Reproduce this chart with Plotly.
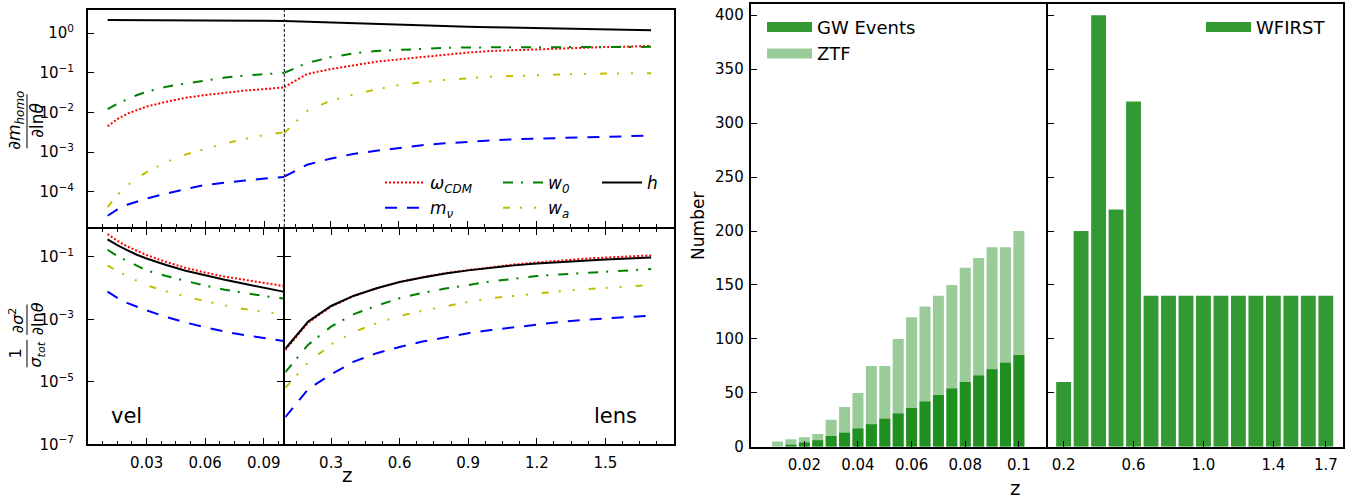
import plotly.graph_objects as go

W, H = 1351, 502
def fx(p): return p / W
def fy(p): return 1 - p / H

# ---------------- data ----------------
z_low = [0.01, 0.015, 0.02, 0.025, 0.03, 0.04, 0.05, 0.06, 0.07, 0.08, 0.09, 0.1]
z_high = [0.1, 0.2, 0.3, 0.4, 0.5, 0.6, 0.7, 0.8, 0.9, 1.0, 1.1, 1.2, 1.3, 1.4, 1.5, 1.6, 1.7]

# top panel (homogeneous), log10 values
homo_low_omega = [-2.35, -2.17, -2.03, -1.93, -1.85, -1.73, -1.63, -1.56, -1.50, -1.45, -1.41, -1.37]
homo_low_w0 = [-1.92, -1.78, -1.67, -1.56, -1.48, -1.35, -1.27, -1.19, -1.12, -1.07, -1.03, -1.00]
homo_low_wa = [-4.39, -4.08, -3.85, -3.66, -3.50, -3.25, -3.06, -2.92, -2.78, -2.67, -2.57, -2.50]
homo_low_mnu = [-4.61, -4.45, -4.33, -4.24, -4.17, -4.05, -3.93, -3.83, -3.77, -3.72, -3.67, -3.63]
homo_low_h = [0.33, 0.33, 0.33, 0.33, 0.33, 0.33, 0.325, 0.325, 0.32, 0.32, 0.315, 0.31]

homo_high_omega = [-1.36, -1.03, -0.91, -0.81, -0.72, -0.66, -0.60, -0.54, -0.49, -0.45, -0.43, -0.40, -0.39, -0.37, -0.35, -0.34, -0.32]
homo_high_w0 = [-1.00, -0.75, -0.61, -0.51, -0.45, -0.42, -0.395, -0.37, -0.36, -0.36, -0.355, -0.355, -0.35, -0.35, -0.35, -0.35, -0.345]
homo_high_wa = [-2.52, -1.96, -1.71, -1.55, -1.42, -1.31, -1.24, -1.18, -1.14, -1.10, -1.08, -1.06, -1.045, -1.03, -1.02, -1.02, -1.01]
homo_high_mnu = [-3.62, -3.32, -3.17, -3.05, -2.97, -2.90, -2.83, -2.78, -2.74, -2.71, -2.68, -2.66, -2.64, -2.63, -2.62, -2.60, -2.58]
homo_high_h = [0.31, 0.29, 0.275, 0.26, 0.24, 0.22, 0.20, 0.185, 0.165, 0.15, 0.14, 0.125, 0.115, 0.10, 0.09, 0.08, 0.075]

# bottom panels (vel / lens), log10 values
vel_omega = [-0.27, -0.48, -0.66, -0.81, -0.94, -1.16, -1.35, -1.50, -1.63, -1.73, -1.83, -1.93]
vel_h = [-0.44, -0.625, -0.78, -0.93, -1.05, -1.26, -1.44, -1.59, -1.73, -1.86, -1.98, -2.11]
vel_w0 = [-0.77, -0.97, -1.13, -1.28, -1.43, -1.61, -1.77, -1.92, -2.05, -2.16, -2.25, -2.33]
vel_wa = [-1.27, -1.46, -1.61, -1.77, -1.91, -2.10, -2.27, -2.42, -2.55, -2.67, -2.76, -2.83]
vel_mnu = [-2.11, -2.31, -2.47, -2.59, -2.71, -2.92, -3.10, -3.25, -3.39, -3.50, -3.60, -3.69]

lens_omega = [-3.98, -3.10, -2.59, -2.25, -2.00, -1.80, -1.65, -1.52, -1.42, -1.32, -1.24, -1.18, -1.11, -1.06, -1.02, -0.99, -0.95]
lens_h = [-3.94, -3.07, -2.57, -2.24, -2.00, -1.80, -1.66, -1.53, -1.43, -1.34, -1.27, -1.21, -1.16, -1.11, -1.08, -1.05, -1.02]
lens_w0 = [-4.69, -3.81, -3.23, -2.83, -2.56, -2.32, -2.15, -2.01, -1.90, -1.78, -1.70, -1.61, -1.56, -1.51, -1.46, -1.43, -1.39]
lens_wa = [-5.19, -4.38, -3.80, -3.40, -3.12, -2.89, -2.72, -2.57, -2.44, -2.32, -2.24, -2.16, -2.10, -2.04, -2.00, -1.94, -1.90]
lens_mnu = [-6.13, -5.23, -4.76, -4.35, -4.08, -3.88, -3.71, -3.57, -3.44, -3.34, -3.25, -3.17, -3.08, -3.02, -2.96, -2.92, -2.88]

# histograms
gw_z = [0.01, 0.015, 0.02, 0.025, 0.03, 0.035, 0.04, 0.045, 0.05, 0.055, 0.06, 0.065, 0.07, 0.075, 0.08, 0.085, 0.09, 0.095, 0.1]
ztf_counts = [5, 7, 9, 12, 25, 37, 50, 75, 75, 100, 120, 130, 140, 150, 166, 175, 185, 185, 200]
gw_counts = [0, 2, 4, 6, 10, 13, 17, 21, 26, 31, 36, 42, 48, 54, 60, 66, 72, 78, 85]
wf_z = [0.2, 0.3, 0.4, 0.5, 0.6, 0.7, 0.8, 0.9, 1.0, 1.1, 1.2, 1.3, 1.4, 1.5, 1.6, 1.7]
wf_counts = [60, 200, 400, 220, 320, 140, 140, 140, 140, 140, 140, 140, 140, 140, 140, 140]

# ---------------- styles ----------------
RED, BLUE, GREEN, YEL, BLK = "#FF0000", "#0000FF", "#008000", "#BFBF00", "#000000"
D_OMEGA = "2px,2px"
D_MNU = "12px,10px"
D_W0 = "10px,8px,2px,10px"
D_WA = "7px,10px,2px,12px,2px,14px"
LW = 2
FONT = "DejaVu Sans"

series = [
    ("<i>ω<sub>CDM</sub></i>", RED, D_OMEGA, homo_low_omega, homo_high_omega, vel_omega, lens_omega, "legend"),
    ("<i>m<sub>ν</sub></i>", BLUE, D_MNU, homo_low_mnu, homo_high_mnu, vel_mnu, lens_mnu, "legend"),
    ("<i>w<sub>0</sub></i>", GREEN, D_W0, homo_low_w0, homo_high_w0, vel_w0, lens_w0, "legend4"),
    ("<i>w<sub>a</sub></i>", YEL, D_WA, homo_low_wa, homo_high_wa, vel_wa, lens_wa, "legend4"),
    ("<i>h</i>", BLK, "solid", homo_low_h, homo_high_h, vel_h, lens_h, "legend5"),
]

fig = go.Figure()
for name, col, dash, lo, hi, vl, ln, leg in series:
    line = dict(color=col, dash=dash, width=LW)
    fig.add_trace(go.Scatter(x=z_low, y=[10 ** v for v in lo], mode="lines", line=line,
                             name=name, legend=leg, showlegend=True, xaxis="x", yaxis="y"))
    fig.add_trace(go.Scatter(x=z_high, y=[10 ** v for v in hi], mode="lines", line=line,
                             showlegend=False, xaxis="x2", yaxis="y2"))
    fig.add_trace(go.Scatter(x=z_low, y=[10 ** v for v in vl], mode="lines", line=line,
                             showlegend=False, xaxis="x3", yaxis="y3"))
    fig.add_trace(go.Scatter(x=z_high, y=[10 ** v for v in ln], mode="lines", line=line,
                             showlegend=False, xaxis="x4", yaxis="y4"))

ZTF_COL = "rgba(0,128,0,0.4)"
GW_COL = "rgba(0,128,0,0.8)"
fig.add_trace(go.Bar(x=gw_z, y=ztf_counts, width=0.0041, marker=dict(color=ZTF_COL, line=dict(width=0)),
                     showlegend=False, xaxis="x5", yaxis="y5"))
fig.add_trace(go.Bar(x=gw_z, y=gw_counts, width=0.0041, marker=dict(color=GW_COL, line=dict(width=0)),
                     showlegend=False, xaxis="x5", yaxis="y5"))
fig.add_trace(go.Bar(x=wf_z, y=wf_counts, width=0.085, marker=dict(color="#339933", line=dict(width=0)),
                     showlegend=False, xaxis="x6", yaxis="y6"))
# legend entries for bars (wide patches)
for nm, col, leg in [("GW Events", "#339933", "legend2"), ("ZTF", "#99CC99", "legend2"), ("WFIRST", "#339933", "legend3")]:
    fig.add_trace(go.Scatter(x=[None], y=[None], mode="lines", line=dict(color=col, width=13),
                             name=nm, legend=leg, showlegend=True, xaxis="x5", yaxis="y5"))

# ---------------- axes ----------------
XDIV = 284.3
YDIV = 232
XL_TOP = [88, XDIV]
XR_TOP = [XDIV, 674]
YT = [YDIV - 1, 10]
XL_BOT = [88, XDIV - 1]
XR_BOT = [XDIV + 1, 674]
YB = [452.5, YDIV + 1]
tickfont = dict(family=FONT, size=15, color="black")
common = dict(showgrid=False, zeroline=False, linecolor="black", linewidth=2,
              tickcolor="black", tickwidth=1, ticklen=6, tickfont=tickfont)

minor_low = dict(ticks="inside", dtick=0.0075, tick0=0, ticklen=3, tickcolor="black", tickwidth=1, showgrid=False)
minor_high = dict(ticks="inside", dtick=0.075, tick0=0.075, ticklen=3, tickcolor="black", tickwidth=1, showgrid=False)

dec_top = [1e0, 1e-1, 1e-2, 1e-3, 1e-4]
dec_top_t = ["10<sup>0</sup>", "10<sup>−1</sup>", "10<sup>−2</sup>", "10<sup>−3</sup>", "10<sup>−4</sup>"]
dec_bot = [1e-1, 1e-3, 1e-5, 1e-7]
dec_bot_t = ["10<sup>−1</sup>", "10<sup>−3</sup>", "10<sup>−5</sup>", "10<sup>−7</sup>"]

GWX = [750.7, 1045.7]
WFX = [1047.7, 1343.3]
RY = [455, 4.5]

fig.update_layout(
    xaxis=dict(common, domain=[fx(XL_TOP[0]), fx(XL_TOP[1])], range=[0, 0.1], anchor="y", showline=True, mirror=True,
               ticks="inside", tickvals=[0.03, 0.06, 0.09], showticklabels=False, minor=minor_low),
    yaxis=dict(common, domain=[fy(YT[0]), fy(YT[1])], type="log", range=[-4.89, 0.59], anchor="x",
               showline=True, mirror=False, ticks="inside", tickvals=dec_top, ticktext=dec_top_t,
               ticklabelstandoff=9),
    xaxis2=dict(common, domain=[fx(XR_TOP[0]), fx(XR_TOP[1])], range=[0.1, 1.8], anchor="y2", showline=True, mirror=True,
                ticks="inside", tickvals=[0.3, 0.6, 0.9, 1.2, 1.5], showticklabels=False, minor=minor_high),
    yaxis2=dict(common, domain=[fy(YT[0]), fy(YT[1])], type="log", range=[-4.89, 0.59], anchor="x2",
                side="right", showline=True, ticks="", showticklabels=False),
    xaxis3=dict(common, domain=[fx(XL_BOT[0]), fx(XL_BOT[1])], range=[0, 0.1], anchor="y3", showline=True, mirror="ticks",
                ticks="inside", tickvals=[0.03, 0.06, 0.09], ticktext=["0.03", "0.06", "0.09"],
                minor=minor_low, ticklabelstandoff=4),
    yaxis3=dict(common, domain=[fy(YB[0]), fy(YB[1])], type="log", range=[-7, -0.1], anchor="x3",
                showline=True, mirror="ticks", ticks="inside", tickvals=dec_bot, ticktext=dec_bot_t,
                ticklabelstandoff=9),
    xaxis4=dict(common, domain=[fx(XR_BOT[0]), fx(XR_BOT[1])], range=[0.1, 1.8], anchor="y4", showline=True, mirror="ticks",
                ticks="inside", tickvals=[0.3, 0.6, 0.9, 1.2, 1.5], ticktext=["0.3", "0.6", "0.9", "1.2", "1.5"],
                minor=minor_high, ticklabelstandoff=4),
    yaxis4=dict(common, domain=[fy(YB[0]), fy(YB[1])], type="log", range=[-7, -0.1], anchor="x4",
                showline=True, mirror=True, ticks="inside", tickvals=dec_bot, showticklabels=False),
    xaxis5=dict(common, domain=[fx(GWX[0]), fx(GWX[1])], range=[0, 0.11], anchor="y5", showline=True, mirror=True,
                ticks="inside", tickvals=[0.02, 0.04, 0.06, 0.08, 0.1], ticktext=["0.02", "0.04", "0.06", "0.08", "0.1"],
                ticklabelstandoff=3),
    yaxis5=dict(common, domain=[fy(RY[0]), fy(RY[1])], range=[0, 410], anchor="x5", showline=True, mirror=True,
                ticks="inside", tickvals=[0, 50, 100, 150, 200, 250, 300, 350, 400], ticklabelstandoff=2),
    xaxis6=dict(common, domain=[fx(WFX[0]), fx(WFX[1])], range=[0.109, 1.8], anchor="y6", showline=True, mirror=True,
                ticks="inside", tickvals=[0.2, 0.6, 1.0, 1.4, 1.7], ticktext=["0.2", "0.6", "1.0", "1.4", "1.7"],
                ticklabelstandoff=3),
    yaxis6=dict(common, domain=[fy(RY[0]), fy(RY[1])], range=[0, 410], anchor="x6", showline=True, mirror=True,
                ticks="inside", tickvals=[0, 50, 100, 150, 200, 250, 300, 350, 400], showticklabels=False),
)

legfont = dict(family=FONT, size=17, color="black")
legcommon = dict(bgcolor="rgba(0,0,0,0)", borderwidth=0, font=legfont, xanchor="left", yanchor="top",
                 orientation="v", tracegroupgap=0, itemsizing="trace", itemwidth=40)
bigfont = dict(family=FONT, size=18, color="black")
fig.update_layout(
    legend=dict(legcommon, x=fx(380), y=fy(168)),
    legend4=dict(legcommon, x=fx(498), y=fy(168)),
    legend5=dict(legcommon, x=fx(597), y=fy(168)),
    legend2=dict(legcommon, x=fx(762), y=fy(9), font=bigfont, itemwidth=45),
    legend3=dict(legcommon, x=fx(1201), y=fy(9), font=bigfont, itemwidth=45),
)

# dashed divider in top panel at z = 0.1
fig.add_shape(type="line", xref="paper", yref="paper", x0=fx(XDIV), x1=fx(XDIV),
              y0=fy(YT[0]), y1=fy(YT[1]), line=dict(color="black", width=1, dash="3px,2px"))

ann = []
def A(text, x, y, size=15, angle=0, xanchor="center", yanchor="middle"):
    ann.append(dict(text=text, x=fx(x), y=fy(y), xref="paper", yref="paper", showarrow=False,
                    textangle=angle, xanchor=xanchor, yanchor=yanchor,
                    font=dict(family=FONT, size=size, color="black")))

# top y label: ∂m_homo / ∂lnθ
A("∂<i>m<sub>homo</sub></i>", 16, 123, 17, -90)
A("∂ln<i>θ</i>", 37, 123, 17, -90)
# bottom y label: (1/σ_tot)(∂σ²/∂lnθ)
A("1", 16, 360, 16, -90)
A("<i>σ<sub>tot</sub></i>", 37, 361, 16, -90)
A("∂<i>σ</i><sup>2</sup>", 16, 326, 16, -90)
A("∂ln<i>θ</i>", 37, 325, 16, -90)
A("vel", 109, 424, 21, 0, "left")
A("lens", 639, 424, 21, 0, "right")
A("z", 347, 484, 20)
A("Number", 698, 230, 17, -90)
A("z", 1015, 497, 20)
fig.update_layout(annotations=ann)

for y0, y1 in [(96, 151), (346, 374), (310, 341)]:
    fig.add_shape(type="line", xref="paper", yref="paper", x0=fx(27), x1=fx(27), y0=fy(y0), y1=fy(y1),
                  line=dict(color="black", width=1))

fig.update_layout(width=W, height=H, margin=dict(l=0, r=0, t=0, b=0), barmode="overlay",
                  paper_bgcolor="white", plot_bgcolor="white", font=dict(family=FONT, color="black"))
fig.write_html("out.html")
